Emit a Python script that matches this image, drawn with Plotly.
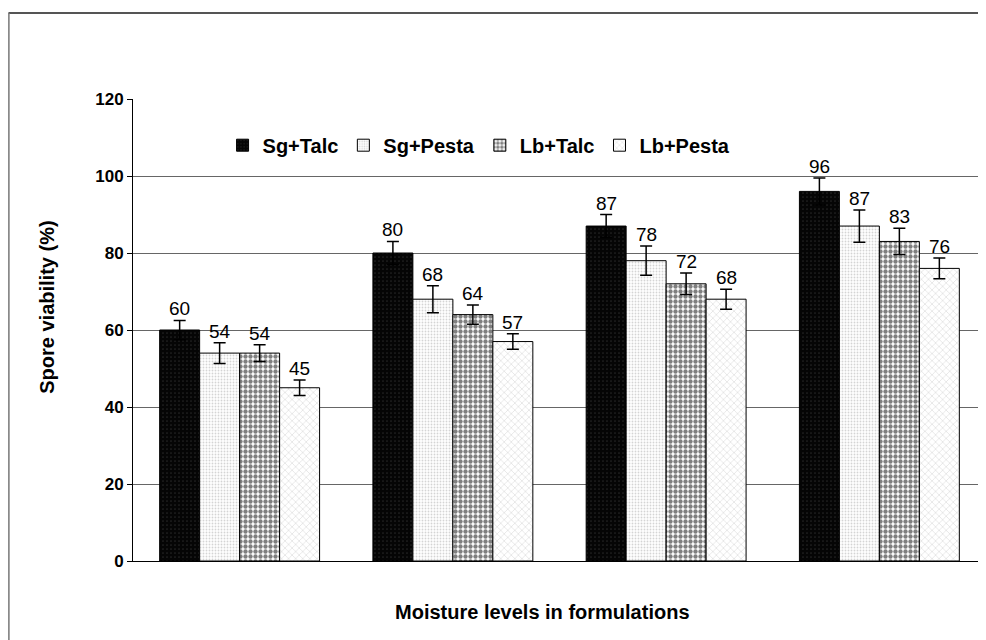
import plotly.graph_objects as go

categories = ["Level 1", "Level 2", "Level 3", "Level 4"]
series_names = ["Sg+Talc", "Sg+Pesta", "Lb+Talc", "Lb+Pesta"]
sg_talc = [60, 80, 87, 96]
sg_pesta = [54, 68, 78, 87]
lb_talc = [54, 64, 72, 83]
lb_pesta = [45, 57, 68, 76]
sg_talc_err = [2.5, 3.0, 3.0, 3.5]
sg_pesta_err = [2.7, 3.5, 3.8, 4.2]
lb_talc_err = [2.2, 2.5, 2.8, 3.4]
lb_pesta_err = [2.0, 2.0, 2.6, 2.7]
y_ticks = [0, 20, 40, 60, 80, 100, 120]

values = [sg_talc, sg_pesta, lb_talc, lb_pesta]
errors = [sg_talc_err, sg_pesta_err, lb_talc_err, lb_pesta_err]
patterns = [
    dict(shape=".", bgcolor="#050505", fgcolor="#444444", size=4, solidity=0.15),
    dict(shape=".", bgcolor="#ffffff", fgcolor="#aaaaaa", size=3, solidity=0.3),
    dict(shape=".", bgcolor="#ffffff", fgcolor="#000000", size=5, solidity=0.6),
    dict(shape="x", bgcolor="#ffffff", fgcolor="#aaaaaa", size=5, solidity=0.2),
]

FONT = "Liberation Sans, Arial, sans-serif"
fig = go.Figure()
for name, vals, errs, pat in zip(series_names, values, errors, patterns):
    fig.add_trace(go.Bar(
        x=categories, y=vals, name=name,
        marker=dict(color=pat["bgcolor"], pattern=pat, line=dict(color="black", width=1)),
        error_y=dict(type="data", array=errs, visible=True, color="black", thickness=1.5, width=6),
    ))

bargap = 0.25
n = len(series_names)
annotations = []
for i, (vals, errs) in enumerate(zip(values, errors)):
    for g, (v, e) in enumerate(zip(vals, errs)):
        annotations.append(dict(
            x=g + (i - (n - 1) / 2) * (1 - bargap) / n, xref="x",
            y=v + e, yref="y", text=str(v), showarrow=False,
            yanchor="bottom", yshift=-1,
            font=dict(family=FONT, size=19, color="black"),
        ))
annotations.append(dict(
    x=0.48, xref="paper", y=-0.11, yref="paper", text="<b>Moisture levels in formulations</b>",
    showarrow=False, font=dict(family=FONT, size=20, color="black"),
    xanchor="center", yanchor="middle",
))
annotations.append(dict(
    x=-0.101, xref="paper", y=0.55, yref="paper", text="<b>Spore viability (%)</b>",
    showarrow=False, textangle=-90, font=dict(family=FONT, size=20, color="black"),
    xanchor="center", yanchor="middle",
))

fig.update_layout(
    width=978, height=632,
    margin=dict(l=125, r=0, t=91, b=79),
    paper_bgcolor="white", plot_bgcolor="white",
    barmode="group", bargap=bargap, bargroupgap=0,
    font=dict(family=FONT, color="black"),
    showlegend=True,
    legend=dict(
        orientation="h", x=0.105, y=0.90, xanchor="left", yanchor="middle",
        font=dict(family=FONT, size=20, color="black", weight="bold"),
        bgcolor="rgba(0,0,0,0)", itemwidth=30, tracegroupgap=0,
    ),
    annotations=annotations,
    shapes=[
        dict(type="line", xref="paper", yref="paper", x0=-0.146, x1=1.01, y0=1.186, y1=1.186,
             line=dict(color="#555", width=2)),
        dict(type="line", xref="paper", yref="paper", x0=-0.1455, x1=-0.1455, y0=-0.2, y1=1.186,
             line=dict(color="#777", width=1.5)),
    ],
)
fig.update_xaxes(
    showticklabels=False, showgrid=False, showline=True, linecolor="black", linewidth=1,
    ticks="", zeroline=False,
)
fig.update_yaxes(
    range=[0, 120], tickvals=y_ticks, ticktext=[f"<b>{t}</b>" for t in y_ticks],
    showgrid=True, gridcolor="#666", gridwidth=1,
    showline=True, linecolor="black", linewidth=1, ticks="outside", ticklen=5, tickcolor="black",
    tickfont=dict(family=FONT, size=17, color="black"),
    zeroline=False,
)
fig.write_html("out.html")
